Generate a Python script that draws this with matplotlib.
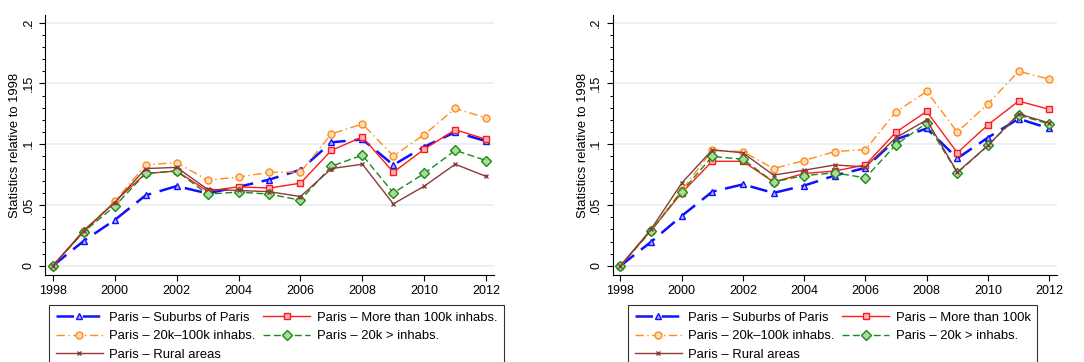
"""Two panels of statistics relative to 1998, Paris vs. other area types."""

import matplotlib
matplotlib.use('Agg')
import matplotlib.pyplot as plt
from matplotlib.ticker import MultipleLocator, FixedLocator

plt.rcParams['font.family'] = ['Liberation Sans', 'DejaVu Sans']

years = list(range(1998, 2013))

# left panel
left_suburbs = [0, 0.0205, 0.0377, 0.058, 0.0656, 0.0596, 0.065, 0.071, 0.079,
                0.1016, 0.104, 0.083, 0.098, 0.110, 0.1025]
left_100k = [0, 0.028, 0.0527, 0.076, 0.078, 0.0615, 0.065, 0.064, 0.068,
             0.095, 0.106, 0.077, 0.096, 0.112, 0.104]
left_20k_100k = [0, 0.029, 0.053, 0.083, 0.085, 0.0705, 0.073, 0.077, 0.077,
                 0.1085, 0.1167, 0.0904, 0.108, 0.1295, 0.1216]
left_20k = [0, 0.028, 0.049, 0.076, 0.078, 0.059, 0.0607, 0.059, 0.054,
            0.082, 0.091, 0.060, 0.076, 0.095, 0.0866]
left_rural = [0, 0.029, 0.052, 0.080, 0.081, 0.063, 0.062, 0.061, 0.057,
              0.080, 0.0836, 0.051, 0.0656, 0.0836, 0.0735]

# right panel
right_suburbs = [0, 0.0197, 0.041, 0.061, 0.067, 0.060, 0.066, 0.0743, 0.0806,
                 0.104, 0.113, 0.0885, 0.1055, 0.121, 0.113]
right_100k = [0, 0.029, 0.060, 0.086, 0.086, 0.069, 0.076, 0.078, 0.083,
              0.110, 0.127, 0.093, 0.116, 0.1355, 0.1287]
right_20k_100k = [0, 0.029, 0.062, 0.095, 0.094, 0.080, 0.0866, 0.094, 0.0956,
                  0.1268, 0.1434, 0.110, 0.1333, 0.160, 0.1536]
right_20k = [0, 0.0287, 0.061, 0.090, 0.0877, 0.069, 0.0743, 0.0765, 0.0724,
             0.0997, 0.1175, 0.0765, 0.099, 0.124, 0.1167]
right_rural = [0, 0.030, 0.068, 0.0954, 0.093, 0.0746, 0.0787, 0.083, 0.0814,
               0.1055, 0.120, 0.077, 0.099, 0.125, 0.1175]

left_labels = ['Paris \u2013 Suburbs of Paris', 'Paris \u2013 More than 100k inhabs.',
               'Paris \u2013 20k\u2013100k inhabs.', 'Paris \u2013 20k > inhabs.',
               'Paris \u2013 Rural areas']
right_labels = ['Paris \u2013 Suburbs of Paris', 'Paris \u2013 More than 100k',
                'Paris \u2013 20k\u2013100k inhabs.', 'Paris \u2013 20k > inhabs.',
                'Paris \u2013 Rural areas']

# line styles per series: (color, marker, facecolor, linestyle, linewidth, markersize)
styles = [
    ('#1010ff', '^', '#b0b8ff', (0, (7, 3.5)), 1.8, 5),
    ('#ff1a1a', 's', '#ffb4bc', '-', 1.0, 4.6),
    ('#ff8c1a', 'o', '#ffdcb8', (0, (6, 2.5, 1, 2.5)), 1.0, 5),
    ('#1a8a1a', 'D', '#a8dc98', (0, (5, 2.5)), 1.0, 4.6),
    ('#8c3a3a', 'x', '#8c3a3a', '-', 1.0, 3.5),
]


def draw_panel(ax, series, labels):
    handles = []
    for vals, lab, (c, m, fc, ls, lw, ms) in zip(series, labels, styles):
        h, = ax.plot(years, vals, color=c, linestyle=ls, linewidth=lw,
                     marker=m, markersize=ms, markerfacecolor=fc,
                     markeredgecolor=c, markeredgewidth=1.0, label=lab)
        handles.append(h)
    ax.set_xlim(1997.75, 2012.25)
    ax.set_ylim(-0.0075, 0.2063)
    ax.set_xticks(range(1998, 2013, 2))
    ax.yaxis.set_major_locator(FixedLocator([0, 0.05, 0.1, 0.15, 0.2]))
    ax.yaxis.set_minor_locator(MultipleLocator(0.01))
    ax.set_yticklabels(['0', '.05', '.1', '.15', '.2'], rotation=90, va='center')
    ax.tick_params(axis='both', labelsize=9, direction='out', length=4, width=0.8)
    ax.tick_params(axis='y', which='minor', length=2.5, width=0.7)
    ax.grid(axis='y', color='#e8eef0', linewidth=1.2)
    ax.set_axisbelow(True)
    for s in ('top', 'right'):
        ax.spines[s].set_visible(False)
    ax.set_ylabel('Statistics relative to 1998', fontsize=9.4, labelpad=1)
    return handles


fig = plt.figure(figsize=(10.84, 3.62), dpi=100)
ax1 = fig.add_axes([0.0415, 0.2403, 0.4142, 0.7183])
ax2 = fig.add_axes([0.5652, 0.2403, 0.4098, 0.7183])

h1 = draw_panel(ax1, [left_suburbs, left_100k, left_20k_100k, left_20k, left_rural], left_labels)
h2 = draw_panel(ax2, [right_suburbs, right_100k, right_20k_100k, right_20k, right_rural], right_labels)

# Stata-style legend rows: (1,2), (3,4), (5)
order = [0, 2, 4, 1, 3]
for ax, hs, labs, x0 in ((ax1, h1, left_labels, 49 / 1084), (ax2, h2, right_labels, 628 / 1084)):
    leg = fig.legend([hs[i] for i in order], [labs[i] for i in order], ncol=2,
                     loc='upper left', bbox_to_anchor=(x0, 1 - 305 / 362),
                     fontsize=9.4, frameon=True, fancybox=False, edgecolor='black',
                     handlelength=3.6, handletextpad=0.5, columnspacing=0.6,
                     borderpad=0.5, labelspacing=0.5, borderaxespad=0)
    leg.get_frame().set_linewidth(0.8)

fig.savefig('out.png', dpi=100)
